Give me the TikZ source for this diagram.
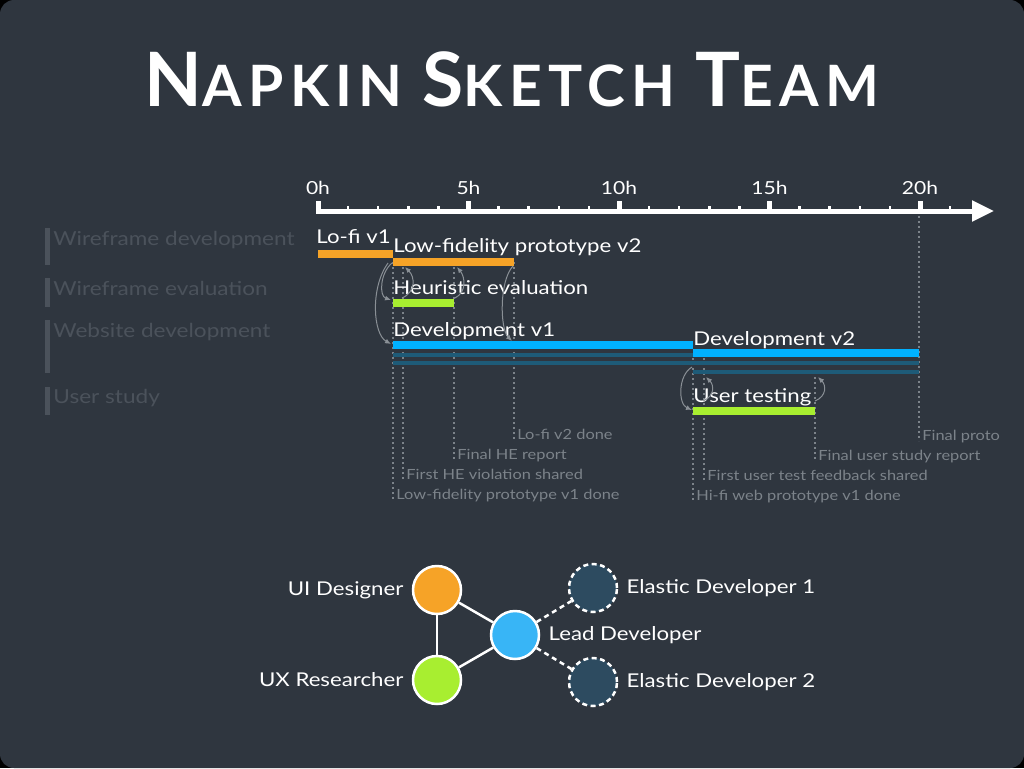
\documentclass[tikz,border=0pt]{standalone}
\usepackage{fontspec}
\setmainfont{Lato}[FakeStretch=1.17]
\newfontfamily\titlefont{Lato}[LetterSpace=11]
\usetikzlibrary{arrows.meta,positioning}

\definecolor{bg}{HTML}{2F363F}
\definecolor{taskorange}{HTML}{F6A327}
\definecolor{tasklime}{HTML}{A8EE30}
\definecolor{taskblue}{HTML}{00B1FF}
\definecolor{devteal}{HTML}{1E5B78}
\definecolor{msgray}{HTML}{7C838A}
\definecolor{catgray}{HTML}{4B525B}
\definecolor{arrowgray}{HTML}{8A9096}
\definecolor{elasticblue}{HTML}{2D4B60}
\definecolor{leadblue}{HTML}{38B5F6}

\begin{document}
\begin{tikzpicture}[x=1pt,y=-1pt,>={Latex[length=6pt,width=5pt]},thick,
	every node/.style={inner sep=0pt,text=white},
	tasklbl/.style={font=\fontsize{19}{19}\selectfont,anchor=base west},
	catlbl/.style={font=\fontsize{19.3}{19}\selectfont,text=catgray,anchor=base west},
	mslbl/.style={font=\fontsize{14}{14}\selectfont,text=msgray,anchor=base west},
	hourlbl/.style={font=\fontsize{18}{18}\selectfont,anchor=base},
	milestone/.style={msgray,line width=1.6pt,dash pattern=on 2pt off 3pt},
	taskbar/.style={line width=7.5pt},
	devline/.style={devteal,line width=4pt},
	handoff/.style={->,arrowgray,line width=1pt},
	member/.style={circle,draw=white,line width=2.5pt,minimum size=48pt},
	elastic/.style={member,fill=elasticblue,dash pattern=on 5pt off 3.5pt},
	teamlbl/.style={font=\fontsize{19}{19}\selectfont},
	link/.style={white,line width=2.5pt}]

\def\xo{318}
\def\hw{30.1}
\def\bigc#1{{\fontsize{75}{75}\selectfont #1}}

% background
\fill[black] (0,0) rectangle (1024,768);
\fill[bg,rounded corners=14pt] (0,0) rectangle (1024,768);
\useasboundingbox (0,0) rectangle (1024,768);

% title
\node (title) at (512,79) {\titlefont\bfseries\fontsize{57}{57}\selectfont
	\bigc{N}APKIN \bigc{S}KETCH \bigc{T}EAM};

% categories
\fill[catgray] (45,228) rectangle (50,265);
\node[catlbl] (cwd) at (53,245) {Wireframe development};
\fill[catgray] (45,278) rectangle (50,307);
\node[catlbl] (cwe) at (53,295) {Wireframe evaluation};
\fill[catgray] (45,320) rectangle (50,373);
\node[catlbl] (cweb) at (53,337) {Website development};
\fill[catgray] (45,387) rectangle (50,415);
\node[catlbl] (cus) at (53,403) {User study};

% milestones
\draw[milestone] ({\xo+\hw*2.5},262) -- ({\xo+\hw*2.5},500);
\draw[milestone] (403,262) -- (403,480);
\draw[milestone] (454,262) -- (454,460);
\draw[milestone] (514,262) -- (514,440);
\draw[milestone] (693,353) -- (693,501);
\draw[milestone] (704,353) -- (704,481);
\draw[milestone] (815,372) -- (815,461);
\draw[milestone] (919,211) -- (919,441);

\node[mslbl] (ms1) at (396,499) {Low-fidelity prototype v1 done};
\node[mslbl] (ms2) at (406,479) {First HE violation shared};
\node[mslbl] (ms3) at (457,459) {Final HE report};
\node[mslbl] (ms4) at (517,439) {Lo-fi v2 done};
\node[mslbl] (ms5) at (696,500) {Hi-fi web prototype v1 done};
\node[mslbl] (ms6) at (707,480) {First user test feedback shared};
\node[mslbl] (ms7) at (818,460) {Final user study report};
\node[mslbl] (ms8) at (922,440) {Final proto};

% axis
\coordinate (axstart) at (316,211);
\coordinate (axend) at (994,211);
\draw[white,line width=5pt,-{Triangle[length=22pt,width=20pt]}] (axstart) -- (axend);
\foreach \i in {1,...,21}
	\draw[white,line width=2.5pt] ({\xo+\hw*\i},211) -- ({\xo+\hw*\i},205.5);
\foreach \i in {0,5,...,20}{
	\draw[white,line width=5pt] ({\xo+\hw*\i},211) -- ({\xo+\hw*\i},201);
	\node[hourlbl] at ({\xo+\hw*\i},194) {\i h};
}

% tasks
\draw[devline] (393,355) -- (693,355);
\draw[devline] (393,363) -- (919,363);
\draw[devline] (693,372) -- (919,372);

\draw[taskbar,taskorange] (\xo,254) -- ({\xo+\hw*2.5},254);
\node[tasklbl] (lofi) at (316,243) {Lo-fi v1};
\draw[taskbar,taskorange] ({\xo+\hw*2.5},262) -- (514,262);
\node[tasklbl] (lofitwo) at (393,252) {Low-fidelity prototype v2};
\draw[taskbar,tasklime] (393,303) -- (454,303);
\node[tasklbl] (he) at (393,294) {Heuristic evaluation};
\draw[taskbar,taskblue] (393,345) -- (693,345);
\node[tasklbl] (devone) at (393,336) {Development v1};
\draw[taskbar,taskblue] (693,353) -- (919,353);
\node[tasklbl] (devtwo) at (693,345) {Development v2};
\draw[taskbar,tasklime] (693,411) -- (815,411);
\node[tasklbl] (ut) at (693,402) {User testing};

% hand-offs
\coordinate (lofidone) at (392,263);
\coordinate (hestart) at (391,300);
\coordinate (lofidoneb) at (388,263);
\coordinate (devstart) at (391,344);
\coordinate (hefirst) at (402,298);
\coordinate (lpfirst) at (405,267);
\coordinate (hefinal) at (455,298);
\coordinate (lpfinal) at (457,267);
\coordinate (lpdone) at (513,266);
\coordinate (devlofi) at (512,341);
\coordinate (hifidone) at (692,367);
\coordinate (utstart) at (692,410);
\coordinate (utfirst) at (703,401);
\coordinate (devfirst) at (706,377);
\coordinate (utfinal) at (815,401);
\coordinate (devfinal) at (818,377);

\draw[handoff] (lofidone) .. controls +(-12,10) and +(-12,-4) .. (hestart);
\draw[handoff] (lofidoneb) .. controls +(-18,25) and +(-18,-10) .. (devstart);
\draw[handoff] (hefirst) .. controls +(14,-6) and +(10,10) .. (lpfirst);
\draw[handoff] (hefinal) .. controls +(12,-6) and +(8,10) .. (lpfinal);
\draw[handoff] (lpdone) .. controls +(-14,15) and +(-12,-12) .. (devlofi);
\draw[handoff] (hifidone) .. controls +(-14,8) and +(-14,-6) .. (utstart);
\draw[handoff] (utfirst) .. controls +(12,-5) and +(8,8) .. (devfirst);
\draw[handoff] (utfinal) .. controls +(12,-5) and +(8,8) .. (devfinal);

% team
\node[member,fill=taskorange] (ui) at (437,590) {};
\node[member,fill=tasklime] (ux) at (437,680) {};
\node[member,fill=leadblue] (lead) at (515,635) {};
\node[elastic] (elone) at (593,588) {};
\node[elastic] (eltwo) at (593,682) {};

\node[teamlbl,left=8pt of ui] (uilbl) {UI Designer};
\node[teamlbl,left=8pt of ux] (uxlbl) {UX Researcher};
\node[teamlbl,right=8pt of lead] (leadlbl) {Lead Developer};
\node[teamlbl,right=8pt of elone] (elonelbl) {Elastic Developer 1};
\node[teamlbl,right=8pt of eltwo] (eltwolbl) {Elastic Developer 2};

\draw[link] (ui) -- (lead);
\draw[link] (ui) -- (ux);
\draw[link] (ux) -- (lead);
\draw[link,dash pattern=on 5pt off 4pt] (lead) -- (elone);
\draw[link,dash pattern=on 5pt off 4pt] (lead) -- (eltwo);

\end{tikzpicture}
\end{document}
